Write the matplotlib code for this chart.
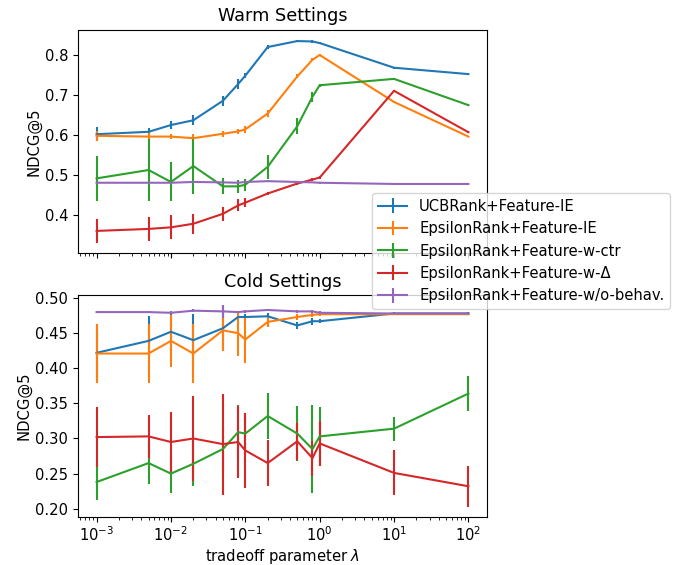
import matplotlib
matplotlib.use("Agg")
import matplotlib.pyplot as plt
import numpy as np

x = [0.001, 0.005, 0.01, 0.02, 0.05, 0.08, 0.1, 0.2, 0.5, 0.8, 1, 10, 100]

labels = ["UCBRank+Feature-IE", "EpsilonRank+Feature-IE", "EpsilonRank+Feature-w-ctr",
          "EpsilonRank+Feature-w-\u0394", "EpsilonRank+Feature-w/o-behav."]
colors = ["#1f77b4", "#ff7f0e", "#2ca02c", "#d62728", "#9467bd"]

# Warm settings
warm_ucb_ie = [0.602, 0.608, 0.625, 0.637, 0.686, 0.728, 0.749, 0.821, 0.836, 0.835, 0.831, 0.769, 0.753]
warm_ucb_ie_err = [0.017, 0.010, 0.010, 0.012, 0.013, 0.012, 0.006, 0.004, 0.003, 0.003, 0.003, 0.002, 0.002]
warm_eps_ie = [0.598, 0.596, 0.596, 0.592, 0.603, 0.609, 0.614, 0.654, 0.747, 0.789, 0.801, 0.683, 0.596]
warm_eps_ie_err = [0.012, 0.008, 0.007, 0.010, 0.008, 0.006, 0.008, 0.010, 0.005, 0.004, 0.003, 0.002, 0.002]
warm_ctr = [0.491, 0.512, 0.482, 0.522, 0.471, 0.471, 0.475, 0.520, 0.622, 0.696, 0.725, 0.741, 0.675]
warm_ctr_err = [0.057, 0.078, 0.049, 0.070, 0.020, 0.017, 0.015, 0.030, 0.020, 0.012, 0.004, 0.003, 0.003]
warm_delta = [0.359, 0.364, 0.368, 0.377, 0.402, 0.423, 0.430, 0.453, 0.478, 0.488, 0.493, 0.711, 0.607]
warm_delta_err = [0.030, 0.030, 0.030, 0.025, 0.017, 0.015, 0.012, 0.005, 0.003, 0.003, 0.003, 0.003, 0.003]
warm_wo = [0.480, 0.480, 0.480, 0.482, 0.481, 0.480, 0.482, 0.484, 0.482, 0.481, 0.480, 0.477, 0.477]
warm_wo_err = [0.002, 0.002, 0.002, 0.002, 0.002, 0.002, 0.002, 0.002, 0.002, 0.002, 0.002, 0.001, 0.001]

# Cold settings
cold_ucb_ie = [0.422, 0.439, 0.452, 0.440, 0.457, 0.473, 0.473, 0.474, 0.461, 0.467, 0.467, 0.478, 0.478]
cold_ucb_ie_err = [0.040, 0.035, 0.030, 0.037, 0.033, 0.005, 0.004, 0.004, 0.005, 0.005, 0.003, 0.002, 0.002]
cold_eps_ie = [0.421, 0.421, 0.439, 0.421, 0.454, 0.450, 0.441, 0.466, 0.473, 0.476, 0.477, 0.477, 0.477]
cold_eps_ie_err = [0.042, 0.042, 0.037, 0.042, 0.030, 0.032, 0.034, 0.007, 0.004, 0.003, 0.002, 0.001, 0.001]
cold_ctr = [0.238, 0.265, 0.250, 0.264, 0.285, 0.309, 0.307, 0.332, 0.307, 0.285, 0.303, 0.314, 0.364]
cold_ctr_err = [0.026, 0.030, 0.027, 0.032, 0.030, 0.038, 0.030, 0.033, 0.039, 0.062, 0.042, 0.017, 0.025]
cold_delta = [0.302, 0.303, 0.295, 0.300, 0.292, 0.295, 0.283, 0.265, 0.296, 0.272, 0.293, 0.251, 0.232]
cold_delta_err = [0.043, 0.031, 0.043, 0.060, 0.072, 0.051, 0.054, 0.033, 0.026, 0.025, 0.032, 0.032, 0.029]
cold_wo = [0.480, 0.480, 0.479, 0.482, 0.481, 0.480, 0.481, 0.483, 0.481, 0.481, 0.479, 0.478, 0.478]
cold_wo_err = [0.002, 0.002, 0.002, 0.002, 0.009, 0.002, 0.002, 0.002, 0.002, 0.002, 0.002, 0.001, 0.001]

warm = [(warm_ucb_ie, warm_ucb_ie_err), (warm_eps_ie, warm_eps_ie_err), (warm_ctr, warm_ctr_err),
        (warm_delta, warm_delta_err), (warm_wo, warm_wo_err)]
cold = [(cold_ucb_ie, cold_ucb_ie_err), (cold_eps_ie, cold_eps_ie_err), (cold_ctr, cold_ctr_err),
        (cold_delta, cold_delta_err), (cold_wo, cold_wo_err)]

fs = 10.6
plt.rcParams["font.size"] = fs
plt.rcParams["xtick.labelsize"] = fs
plt.rcParams["ytick.labelsize"] = fs
plt.rcParams["xtick.major.pad"] = 2.5
plt.rcParams["axes.labelpad"] = 2.5

fig = plt.figure(figsize=(6.83, 5.65), dpi=100)
ax1 = fig.add_axes([0.1142, 0.5522, 0.5988, 0.3952])
ax2 = fig.add_axes([0.1142, 0.0855, 0.5988, 0.3924], sharex=ax1)

handles = []
for (y, e), c, lab in zip(warm, colors, labels):
    h = ax1.errorbar(x, y, yerr=e, color=c, label=lab)
    handles.append(h)
for (y, e), c, lab in zip(cold, colors, labels):
    ax2.errorbar(x, y, yerr=e, color=c, label=lab)

ax1.set_xscale("log")
ax1.set_title("Warm Settings", fontsize=12.7)
ax2.set_title("Cold Settings", fontsize=12.7)
ax1.set_ylabel("NDCG@5", fontsize=fs)
ax2.set_ylabel("NDCG@5", fontsize=fs)
ax2.set_xlabel("tradeoff parameter $\\lambda$", fontsize=fs)
ax1.tick_params(labelbottom=False)
ax1.set_yticks([0.4, 0.5, 0.6, 0.7, 0.8])
ax2.set_yticks([0.20, 0.25, 0.30, 0.35, 0.40, 0.45, 0.50])

fig.legend(handles=handles, labels=labels, loc="upper left",
           bbox_to_anchor=(0.5447, 0.6584), fontsize=fs, borderaxespad=0)

fig.savefig("out.png", dpi=100)
